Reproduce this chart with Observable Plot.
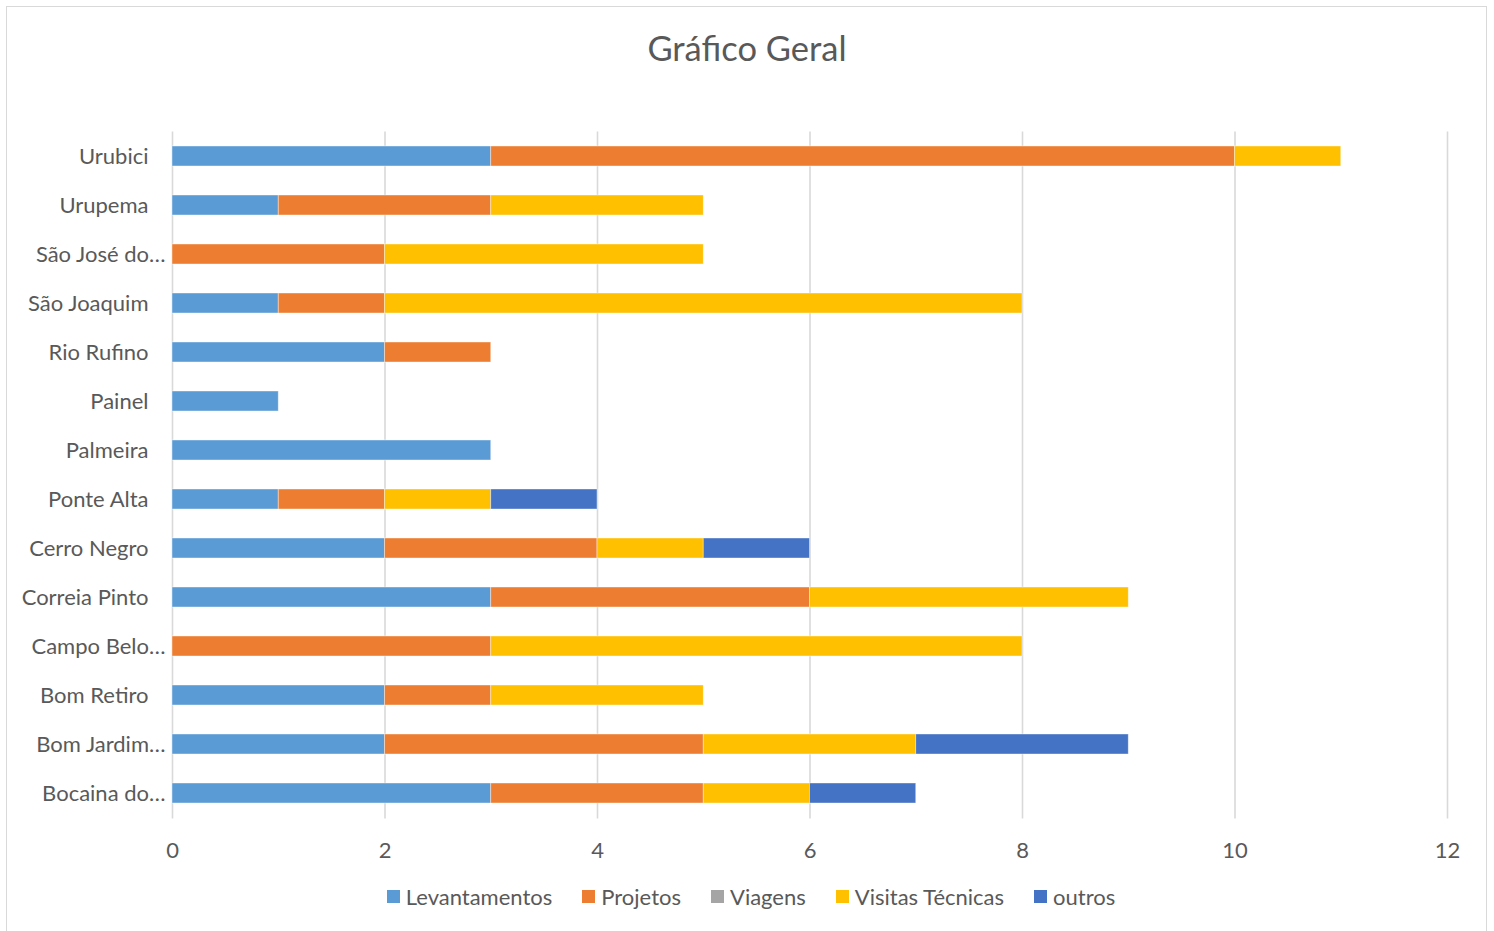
<!DOCTYPE html>
<html>
<head>
<meta charset="utf-8">
<script src="https://cdn.jsdelivr.net/npm/d3@7"></script>
<script src="https://cdn.jsdelivr.net/npm/@observablehq/plot@0.6"></script>
<style>
  html, body { margin: 0; padding: 0; background: #fff; }
  body { width: 1494px; height: 931px; position: relative; overflow: hidden; font-family: Lato, "Open Sans", sans-serif; color: #595959; }
  #frame { position: absolute; left: 6px; top: 6px; width: 1481px; height: 940px; border: 1.5px solid #d9d9d9; box-sizing: border-box; }
  #title { position: absolute; left: 0; top: 27px; width: 1494px; text-align: center; font-size: 34.5px; color: #595959; }
  #chart { position: absolute; left: 0; top: 0; }
  #legend { position: absolute; left: 0; top: 883px; width: 1502px; display: flex; justify-content: center; font-size: 22px; color: #595959; }
  #legend .item { display: flex; align-items: center; margin: 0 15px; }
  #legend .sw { width: 13px; height: 13px; margin-right: 6px; }
</style>
</head>
<body>
<div id="frame"></div>
<div id="chart"></div>
<div id="title">Gráfico Geral</div>
<div id="legend"></div>
<script>
// Categories, top to bottom
const categories = ["Urubici", "Urupema", "São José do…", "São Joaquim", "Rio Rufino", "Painel", "Palmeira", "Ponte Alta", "Cerro Negro", "Correia Pinto", "Campo Belo…", "Bom Retiro", "Bom Jardim…", "Bocaina do…"];
const seriesNames = ["Levantamentos", "Projetos", "Viagens", "Visitas Técnicas", "outros"];
const seriesColors = ["#5B9BD5", "#ED7D31", "#A5A5A5", "#FFC000", "#4472C4"];
const levantamentos   = [3, 1, 0, 1, 2, 1, 3, 1, 2, 3, 0, 2, 2, 3];
const projetos        = [7, 2, 2, 1, 1, 0, 0, 1, 2, 3, 3, 1, 3, 2];
const viagens         = [0, 0, 0, 0, 0, 0, 0, 0, 0, 0, 0, 0, 0, 0];
const visitasTecnicas = [1, 2, 3, 6, 0, 0, 0, 1, 1, 3, 5, 2, 2, 1];
const outros          = [0, 0, 0, 0, 0, 0, 0, 1, 1, 0, 0, 0, 2, 1];
const xTicks = [0, 2, 4, 6, 8, 10, 12];

const seriesValues = [levantamentos, projetos, viagens, visitasTecnicas, outros];
const data = [];
categories.forEach((c, i) => {
  seriesNames.forEach((s, j) => {
    data.push({category: c, series: s, value: seriesValues[j][i]});
  });
});
const truncated = categories.filter(c => c.endsWith("…"));
const full = categories.filter(c => !c.endsWith("…"));

const chart = Plot.plot({
  width: 1494,
  height: 931,
  marginLeft: 172,
  marginRight: 47,
  marginTop: 131.5,
  marginBottom: 112.5,
  style: { fontFamily: "Lato, 'Open Sans', sans-serif", fontSize: "22px", color: "#595959", background: "transparent" },
  x: { domain: [0, 12], ticks: xTicks, tickSize: 0, label: null, grid: false },
  y: { domain: categories, paddingInner: 0.59, paddingOuter: 0.295, tickSize: 0, label: null },
  color: { domain: seriesNames, range: seriesColors },
  marks: [
    Plot.ruleX(xTicks, { stroke: "#d9d9d9", strokeWidth: 1.6 }),
    Plot.barX(data, Plot.stackX({
      x: "value", y: "category", fill: "series", order: seriesNames,
      stroke: "#ffffff", strokeWidth: 0.8, strokeOpacity: 0.5, inset: 0
    })),
    Plot.axisX({ ticks: xTicks, tickSize: 0, tickPadding: 23, label: null, fontSize: 22 }),
    Plot.axisY({ ticks: full, tickSize: 0, tickPadding: 24, label: null, fontSize: 22 }),
    Plot.axisY({ ticks: truncated, tickSize: 0, tickPadding: 7, label: null, fontSize: 22 })
  ]
});
document.getElementById("chart").appendChild(chart);

const legend = document.getElementById("legend");
seriesNames.forEach((s, j) => {
  const item = document.createElement("div");
  item.className = "item";
  const sw = document.createElement("span");
  sw.className = "sw";
  sw.style.background = seriesColors[j];
  const t = document.createElement("span");
  t.textContent = s;
  item.appendChild(sw);
  item.appendChild(t);
  legend.appendChild(item);
});
</script>
</body>
</html>
